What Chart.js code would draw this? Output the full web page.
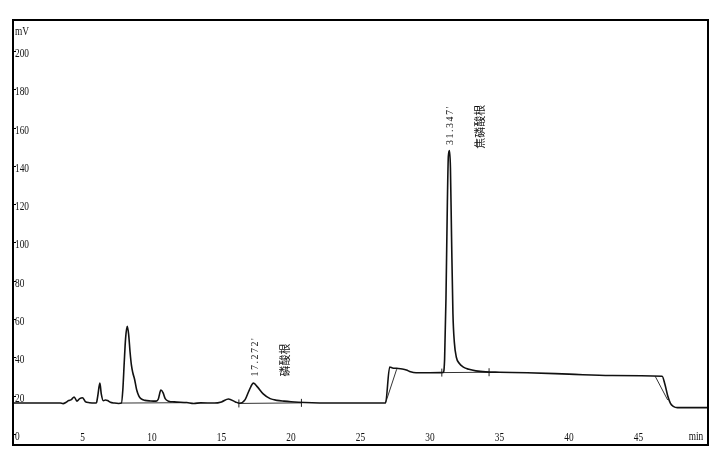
<!DOCTYPE html>
<html>
<head>
<meta charset="utf-8">
<script src="https://cdn.jsdelivr.net/npm/chart.js@4.4.1/dist/chart.umd.min.js"></script>
<style>
  html, body { margin: 0; padding: 0; background: #fff; }
  #wrap { width: 724px; height: 463px; }
</style>
</head>
<body>
<div id="wrap"><canvas id="myChart" width="724" height="463"></canvas></div>
<script>
// chromatogram trace (time in min, signal in mV)
const times = [0, 3.4, 3.6, 3.8, 4.0, 4.2, 4.4, 4.6, 4.8, 5.0, 5.2, 5.5, 5.9, 6.0, 6.1, 6.25, 6.35, 6.5, 6.65, 6.8, 7.0, 7.3, 7.6, 7.8, 7.9, 8.0, 8.1, 8.22, 8.32, 8.42, 8.52, 8.62, 8.75, 8.9, 9.05, 9.2, 9.5, 9.9, 10.3, 10.45, 10.64, 10.8, 10.95, 11.2, 11.6, 12.5, 13.0, 13.5, 14.5, 15.0, 15.5, 16.0, 16.3, 16.7, 17.0, 17.3, 17.6, 18.0, 18.5, 19.0, 19.5, 20.0, 21.0, 23.0, 26.8, 27.1, 27.3, 27.6, 28.0, 28.3, 28.6, 29.0, 30.0, 30.95, 31.05, 31.15, 31.25, 31.32, 31.4, 31.47, 31.55, 31.65, 31.75, 31.9, 32.1, 32.4, 32.8, 33.3, 34.0, 35.0, 37.0, 40.0, 43.0, 46.7, 46.9, 47.1, 47.3, 47.5, 47.8, 50];
const signal = [17.2, 17.2, 16.9, 17.5, 18.5, 19.0, 20.4, 18.2, 19.5, 20.0, 18.0, 17.4, 17.2, 17.3, 21, 27.6, 22, 18.4, 18.8, 18.5, 17.6, 17.2, 17.0, 17.2, 24, 38, 51, 57.3, 53, 44, 37, 33, 29.5, 24, 21, 19.5, 18.6, 18.3, 18.2, 19.2, 24, 22.5, 19.5, 18.2, 17.8, 17.5, 17.0, 17.3, 17.2, 17.8, 19.3, 17.8, 17.1, 19, 24, 27.6, 25.5, 22, 19.5, 18.6, 18.2, 17.9, 17.5, 17.2, 17.2, 36, 35.5, 35.3, 35.0, 34.5, 33.5, 33.0, 33.0, 33.2, 40, 72, 122, 146, 149, 140, 104, 64, 49, 41, 38, 36, 34.8, 34.0, 33.5, 33.3, 33.0, 32.3, 31.6, 31.2, 27, 21, 17, 15.5, 14.8, 14.8];

// integration baselines (null breaks the segments)
const baseTimes = [7.8, 12.5, null, 16.25, 20.75, null, 26.8, 27.6, null, 30.85, 34.25, null, 46.2, 47.1];
const baseValues = [17.2, 17.4, null, 17.0, 17.3, null, 17.2, 34.8, null, 33.1, 33.3, null, 31.2, 18.8];

// peak start / end marks
const markTimes = [16.25, 20.75, 30.85, 34.25];
const markValues = [17.0, 17.3, 33.1, 33.3];

// peak labels
const peakTexts = ["17.272'", "磷酸根", "31.347'", "焦磷酸根"];
const peakTimes = [17.45, 19.55, 31.43, 33.6];
const peakValues = [31, 31, 152, 150];

// tick labels
const xTickValues = [5, 10, 15, 20, 25, 30, 35, 40, 45];
const yTickValues = [0, 20, 40, 60, 80, 100, 120, 140, 160, 180, 200];

const ctx = document.getElementById("myChart");

const nullGap = (t, i, vals) => ({ x: t === null ? (baseTimes[i - 1] + 0.01) : t, y: vals[i] });

// condensed serif text, like the instrument print-out
function squeezeText(c, txt, x, y, align) {
  c.save();
  c.translate(x, y);
  c.scale(0.78, 1);
  c.textAlign = align;
  c.fillText(txt, 0, 0);
  c.restore();
}

const framePlugin = {
  id: "frame",
  afterDraw(chart) {
    const c = chart.ctx;
    const a = chart.chartArea;
    const xs = chart.scales.x;
    const ys = chart.scales.y;
    c.save();
    // outer frame
    c.strokeStyle = "#000";
    c.lineWidth = 2;
    c.strokeRect(a.left, a.top, a.right - a.left, a.bottom - a.top);
    c.fillStyle = "#111";
    c.font = "12px 'Liberation Serif'";
    c.textBaseline = "middle";
    c.lineWidth = 1;
    // y ticks, inside the frame
    yTickValues.forEach(v => {
      const py = Math.round(ys.getPixelForValue(v)) + 0.5;
      c.beginPath();
      c.moveTo(a.left, py - 2);
      c.lineTo(a.left + 3, py - 2);
      c.stroke();
      squeezeText(c, String(v), a.left + 2, py, "left");
    });
    // x ticks, above the bottom line
    xTickValues.forEach(v => {
      squeezeText(c, String(v), xs.getPixelForValue(v), a.bottom - 7, "center");
    });
    // axis units
    squeezeText(c, "mV", a.left + 2, 32, "left");
    squeezeText(c, "min", a.right - 12, a.bottom - 8, "center");
    // peak labels, written bottom to top
    peakTexts.forEach((txt, i) => {
      const px = xs.getPixelForValue(peakTimes[i]);
      const py = ys.getPixelForValue(peakValues[i]);
      c.save();
      c.translate(px, py);
      c.rotate(-Math.PI / 2);
      c.textAlign = "left";
      if (/[0-9]/.test(txt)) {
        c.font = "10px 'Liberation Serif'";
        c.letterSpacing = "1.5px";
      } else {
        c.font = "11px 'Noto Sans CJK SC'";
        c.letterSpacing = "0px";
      }
      c.fillText(txt, 0, 0);
      c.restore();
    });
    c.restore();
  }
};

const chromChart = new Chart(ctx, {
  type: "line",
  data: {
    datasets: [
      {
        label: "signal",
        data: times.map((t, i) => ({ x: t, y: signal[i] })),
        borderColor: "#111",
        borderWidth: 1.6,
        pointRadius: 0,
        cubicInterpolationMode: "monotone",
      },
      {
        label: "baseline",
        data: baseTimes.map((t, i) => nullGap(t, i, baseValues)),
        borderColor: "#333",
        borderWidth: 1,
        pointRadius: 0,
        spanGaps: false,
      },
      {
        type: "scatter",
        label: "marks",
        data: markTimes.map((t, i) => ({ x: t, y: markValues[i] })),
        pointStyle: "line",
        rotation: 90,
        pointRadius: 4,
        borderColor: "#222",
        borderWidth: 1,
      },
    ],
  },
  options: {
    responsive: false,
    animation: false,
    layout: { padding: { left: 13, right: 16, top: 20, bottom: 18 } },
    scales: {
      x: { type: "linear", min: 0, max: 50, display: false },
      y: { min: -4.7, max: 217.2, display: false },
    },
    plugins: {
      legend: { display: false },
      tooltip: { enabled: false },
    },
  },
  plugins: [framePlugin],
});
</script>
</body>
</html>
